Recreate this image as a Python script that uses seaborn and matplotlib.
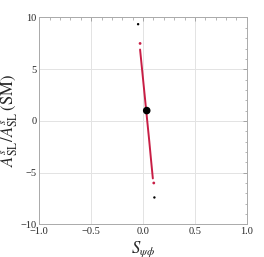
import matplotlib
matplotlib.use("Agg")
import matplotlib.pyplot as plt
import numpy as np
import pandas as pd
import seaborn as sns
from matplotlib.ticker import MultipleLocator

# scan band (S_psiphi, A_SL ratio)
band_s = [-0.029, -0.015, 0.000, 0.015, 0.030, 0.045, 0.060, 0.075, 0.094]
band_a = [6.9, 5.5, 4.0, 2.5, 1.0, -0.5, -2.0, -3.6, -5.56]

# isolated scan points
red_s = [-0.029, 0.103]
red_a = [7.49, -6.0]
black_s = [-0.048, 0.109]
black_a = [9.35, -7.4]

# standard model point
sm_s = [0.035]
sm_a = [1.0]

sns.set_style("white")
plt.rcParams["font.family"] = ["Liberation Serif", "DejaVu Serif"]
plt.rcParams["mathtext.fontset"] = "stix"

fig = plt.figure(figsize=(2.64, 2.57), dpi=100)
ax = fig.add_axes([0.149, 0.127, 0.786, 0.805])

band = pd.DataFrame({"s": band_s, "a": band_a})
sns.lineplot(data=band, x="s", y="a", sort=False, color="#c81e45", lw=1.4, ax=ax)
sns.scatterplot(x=red_s, y=red_a, color="#c81e45", s=4, edgecolor="none", ax=ax)
sns.scatterplot(x=black_s, y=black_a, color="black", s=3, edgecolor="none", ax=ax)
sns.scatterplot(x=sm_s, y=sm_a, color="black", s=30, edgecolor="none", ax=ax, zorder=5)

ax.set_xlim(-1, 1)
ax.set_ylim(-10, 10)
ax.xaxis.set_major_locator(MultipleLocator(0.5))
ax.xaxis.set_minor_locator(MultipleLocator(0.1))
ax.yaxis.set_major_locator(MultipleLocator(5))
ax.yaxis.set_minor_locator(MultipleLocator(1))
ax.grid(True, which="major", color="#e3e3e3", lw=0.7)
ax.tick_params(which="both", direction="in", top=True, right=True, color="#999999", labelsize=7.5, pad=2)
ax.tick_params(which="major", length=3, width=0.6)
ax.tick_params(which="minor", length=1.8, width=0.5)
for sp in ax.spines.values():
    sp.set_color("#aaaaaa")
    sp.set_linewidth(0.7)

ax.set_xlabel(r"$S_{\psi\phi}$", fontsize=12, labelpad=2)
ax.set_ylabel(r"$A^s_{\mathrm{SL}}/A^s_{\mathrm{SL}}\,(\mathrm{SM})$", fontsize=12, labelpad=0)

fig.savefig("out.png", dpi=100)
